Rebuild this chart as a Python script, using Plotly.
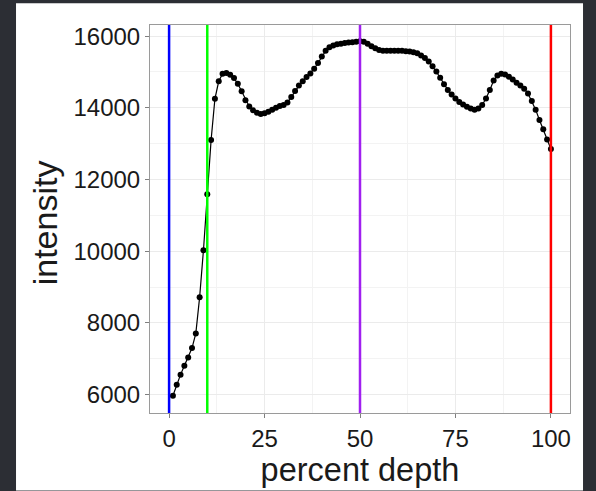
import plotly.graph_objects as go

depth = list(range(1, 101))
intensity = [
    5970, 6280, 6560, 6810, 7040, 7300, 7710, 8720, 10030, 11590,
    13100, 14250, 14740, 14950, 14970, 14920, 14830, 14670, 14460, 14210,
    14040, 13930, 13860, 13830, 13850, 13890, 13950, 14000, 14050, 14080,
    14150, 14300, 14470, 14620, 14740, 14860, 14960, 15090, 15250, 15430,
    15590, 15690, 15740, 15770, 15790, 15810, 15820, 15830, 15840, 15860,
    15840, 15790, 15720, 15660, 15610, 15590, 15590, 15590, 15590, 15590,
    15590, 15580, 15570, 15550, 15520, 15460, 15390, 15290, 15160, 15010,
    14840, 14660, 14500, 14370, 14260, 14160, 14090, 14030, 13980, 13950,
    13980, 14080, 14260, 14500, 14760, 14900, 14950, 14930, 14870, 14790,
    14700, 14620, 14530, 14400, 14190, 13950, 13660, 13400, 13120, 12850,
]
vline_pos = [0, 10, 50, 100]
vline_colors = ["#0000ff", "#00ff00", "#a020f0", "#ff0000"]
x_ticks = [0, 25, 50, 75, 100]
y_ticks = [6000, 8000, 10000, 12000, 14000, 16000]

FONT = "Liberation Sans, Arial, sans-serif"

fig = go.Figure()
fig.add_trace(go.Scatter(
    x=depth, y=intensity, mode="lines+markers",
    line=dict(color="black", width=1.2),
    marker=dict(color="black", size=6),
    showlegend=False, hoverinfo="skip",
))

shapes = []
# white card on dark background
shapes.append(dict(type="rect", xref="paper", yref="paper",
                   x0=-0.319, x1=1.031, y0=-0.2, y1=1.056,
                   fillcolor="white", line=dict(width=0), layer="below"))
for pos, col in zip(vline_pos, vline_colors):
    shapes.append(dict(type="line", xref="x", yref="paper",
                       x0=pos, x1=pos, y0=0, y1=1,
                       line=dict(color=col, width=2.5), layer="above"))

fig.update_layout(
    width=596, height=491,
    paper_bgcolor="#2c2e34",
    plot_bgcolor="white",
    margin=dict(l=150, r=26, t=25, b=75),
    font=dict(family=FONT, color="#1a1a1a"),
    shapes=shapes,
    showlegend=False,
    annotations=[dict(
        text="intensity", textangle=-90, xref="paper", yref="paper",
        x=-0.248, y=0.491, xanchor="center", yanchor="middle", showarrow=False,
        font=dict(size=34, color="#1a1a1a", family=FONT),
    )],
)
fig.update_xaxes(
    range=[-5, 105], tickvals=x_ticks, ticktext=[str(v) for v in x_ticks],
    showgrid=True, gridcolor="#ebebeb", gridwidth=1.2,
    minor=dict(dtick=12.5, tick0=0, showgrid=True, gridcolor="#f3f3f3", gridwidth=0.6),
    ticks="outside", ticklen=4, tickcolor="#7f7f7f", tickwidth=1.2,
    tickfont=dict(size=24, color="#1a1a1a", family=FONT),
    showline=True, linecolor="#9a9a9a", linewidth=1, mirror=True,
    zeroline=False,
    title=dict(text="percent depth", font=dict(size=32.5, color="#1a1a1a", family=FONT), standoff=4),
)
fig.update_yaxes(
    range=[5490, 16310], tickvals=y_ticks, ticktext=[str(v) for v in y_ticks],
    showgrid=True, gridcolor="#ebebeb", gridwidth=1.2,
    minor=dict(dtick=1000, tick0=0, showgrid=True, gridcolor="#f3f3f3", gridwidth=0.6),
    ticks="outside", ticklen=4, tickcolor="#7f7f7f", tickwidth=1.2,
    tickfont=dict(size=24, color="#1a1a1a", family=FONT),
    showline=True, linecolor="#9a9a9a", linewidth=1, mirror=True,
    zeroline=False,
)

fig.write_html(
    "out.html",
    config={"displayModeBar": False},
    post_script="document.body.style.margin='0';document.body.style.padding='0';document.body.style.background='#2c2e34';",
)
